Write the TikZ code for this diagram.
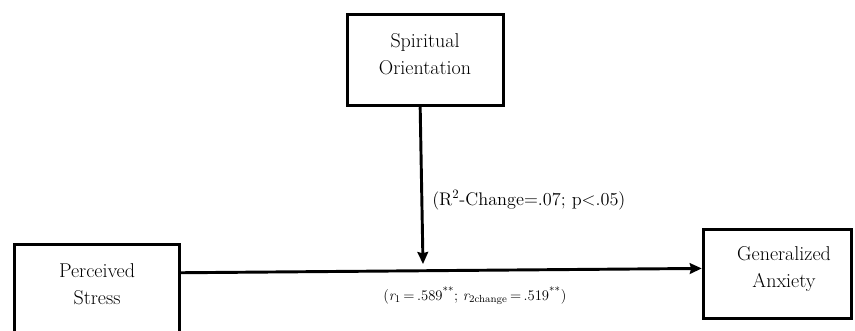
\documentclass[tikz,border=0pt]{standalone}
\usetikzlibrary{arrows.meta}

\tikzset{
  box/.style={draw, line width=2.6pt, inner sep=0pt},
  boxtext/.style={align=center, inner sep=0.75pt, font=\fontsize{15}{20.5}\selectfont},
  stattext/.style={anchor=base west, inner sep=0pt, font=\fontsize{13.7}{15}\selectfont},
  link/.style={line width=2.2pt, -{Stealth[length=9pt,width=8pt,inset=1pt]}}
}

\begin{document}
\begin{tikzpicture}[x=0.75pt,y=0.75pt,yscale=-1,xscale=1]
\clip (0,0) rectangle (855,331);

%Shape: Rectangle [Spiritual Orientation]
\node[box, minimum width=117pt, minimum height=68.25pt] (spirit) at (425.5,60) {};
%Shape: Rectangle [Perceived Stress]
\node[box, minimum width=123.75pt, minimum height=75.4pt] (stress) at (97,294.75) {};
%Shape: Rectangle [Generalized Anxiety]
\node[box, minimum width=111pt, minimum height=66.75pt] (anxiety) at (777.5,274) {};

% Text Node
\node[boxtext] (spirittxt) at (425,54) {Spiritual\\Orientation};
% Text Node
\node[boxtext] (stresstxt) at (97,284) {Perceived\\Stress};
% Text Node
\node[boxtext] (anxietytxt) at (784,269) {Generalized\\Anxiety};

%Straight Lines
\coordinate (modtip) at (423,264);
\draw[link] ([xshift=-4pt]spirit.south) -- (modtip);
%Straight Lines
\draw[link] ([yshift=22.5pt]stress.north east) -- ([yshift=30.5pt]anxiety.north west);

% Text Node
\node[stattext] (rchange) at (432,205) {(R\textsuperscript{2}-Change=.07; p<.05)};
% Text Node
\node[stattext, font=\fontsize{11}{13}\selectfont] (rcoef) at (383,300) {({\itshape r}\textsubscript{1}\,=\,.589\textsuperscript{**}; {\itshape r}\textsubscript{2change}\,=\,.519\textsuperscript{**})};
\end{tikzpicture}
\end{document}
